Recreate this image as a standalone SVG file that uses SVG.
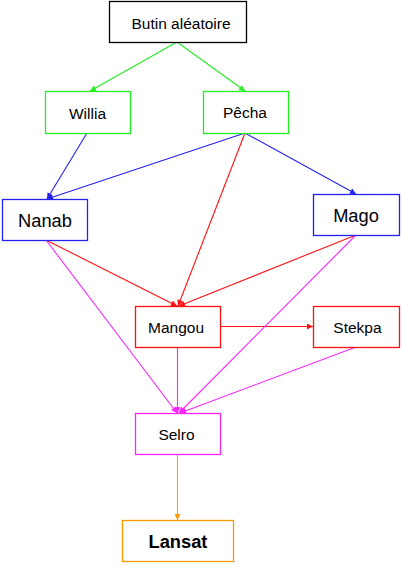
<svg xmlns="http://www.w3.org/2000/svg" width="402" height="565" viewBox="0 0 402 565">
<style>
.box{fill:#fff;stroke-width:1.3}
.t{font-family:"Liberation Sans",Arial,sans-serif;font-size:15.5px;fill:#000;text-anchor:middle}
.tl{font-size:18.3px}
.tb{font-size:18.3px;font-weight:bold}
.g{stroke:#22ee22}.b{stroke:#2222ee}.r{stroke:#ff1111}.m{stroke:#ff22ff}.o{stroke:#ff9900}
#edges line{stroke-width:1.1}
</style>
<defs>
<marker id="ag" viewBox="0 0 10 10" refX="10" refY="5" markerWidth="7" markerHeight="6" markerUnits="userSpaceOnUse" orient="auto"><path d="M0,0L10,5L0,10z" fill="#22ee22"/></marker>
<marker id="ab" viewBox="0 0 10 10" refX="10" refY="5" markerWidth="7" markerHeight="6" markerUnits="userSpaceOnUse" orient="auto"><path d="M0,0L10,5L0,10z" fill="#2222ee"/></marker>
<marker id="ar" viewBox="0 0 10 10" refX="10" refY="5" markerWidth="7" markerHeight="6" markerUnits="userSpaceOnUse" orient="auto"><path d="M0,0L10,5L0,10z" fill="#ff1111"/></marker>
<marker id="am" viewBox="0 0 10 10" refX="10" refY="5" markerWidth="7" markerHeight="6" markerUnits="userSpaceOnUse" orient="auto"><path d="M0,0L10,5L0,10z" fill="#ff22ff"/></marker>
<marker id="ao" viewBox="0 0 10 10" refX="10" refY="5" markerWidth="7" markerHeight="6" markerUnits="userSpaceOnUse" orient="auto"><path d="M0,0L10,5L0,10z" fill="#ff9900"/></marker>
</defs>
<rect width="402" height="565" fill="#fff"/>
<g id="edges">
<line class="g" x1="177" y1="42" x2="90" y2="91" marker-end="url(#ag)"/>
<line class="g" x1="177" y1="42" x2="245" y2="91" marker-end="url(#ag)"/>
<line class="b" x1="87" y1="133" x2="47" y2="199" marker-end="url(#ab)"/>
<line class="b" x1="245" y1="133" x2="47" y2="199" marker-end="url(#ab)"/>
<line class="b" x1="245" y1="133" x2="356" y2="194" marker-end="url(#ab)"/>
<line class="r" x1="245" y1="133" x2="178" y2="306" marker-end="url(#ar)"/>
<line class="r" x1="46" y1="240" x2="177" y2="306" marker-end="url(#ar)"/>
<line class="r" x1="356" y1="235" x2="179" y2="306" marker-end="url(#ar)"/>
<line class="r" x1="220" y1="326.5" x2="313" y2="326.5" marker-end="url(#ar)"/>
<line class="m" x1="46" y1="240" x2="177" y2="413" marker-end="url(#am)"/>
<line class="m" x1="356" y1="235" x2="179" y2="413" marker-end="url(#am)"/>
<line class="m" x1="177.5" y1="347" x2="177.5" y2="413" marker-end="url(#am)"/>
<line class="m" x1="356" y1="347" x2="180" y2="413" marker-end="url(#am)"/>
<line class="o" x1="177.5" y1="454" x2="177.5" y2="520" marker-end="url(#ao)"/>
</g>
<g id="butin"><rect class="box" x="109.5" y="1.5" width="137" height="41" stroke="#000"/><text class="t" x="181" y="28.5">Butin aléatoire</text></g>
<g id="willia"><rect class="box" x="45.5" y="91.5" width="85" height="42" stroke="#22ee22"/><text class="t" x="87.5" y="118.5">Willia</text></g>
<g id="pecha"><rect class="box" x="203.5" y="91.5" width="85" height="42" stroke="#22ee22"/><text class="t" x="245" y="117.5">Pêcha</text></g>
<g id="nanab"><rect class="box" x="2.5" y="199.5" width="85" height="41" stroke="#2222ee"/><text class="t tl" x="45" y="226.5">Nanab</text></g>
<g id="mago"><rect class="box" x="313.5" y="194.5" width="86" height="41" stroke="#2222ee"/><text class="t tl" x="356" y="221.5">Mago</text></g>
<g id="mangou"><rect class="box" x="135.5" y="306.5" width="85" height="41" stroke="#ff1111"/><text class="t" x="176" y="332.5">Mangou</text></g>
<g id="stekpa"><rect class="box" x="313.5" y="306.5" width="86" height="41" stroke="#ff1111"/><text class="t" x="357.5" y="332.5">Stekpa</text></g>
<g id="selro"><rect class="box" x="135.5" y="413.5" width="85" height="41" stroke="#ff22ff"/><text class="t" x="176.5" y="439.5">Selro</text></g>
<g id="lansat"><rect class="box" x="122.5" y="520.5" width="111" height="41" stroke="#ff9900"/><text class="t tb" x="178" y="548">Lansat</text></g>
</svg>
